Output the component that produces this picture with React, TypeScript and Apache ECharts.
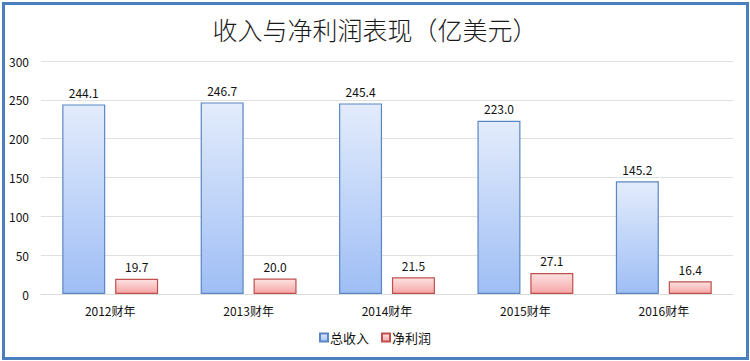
import React, { useEffect, useRef } from "react";
import * as echarts from "echarts";

const categories = ["2012财年", "2013财年", "2014财年", "2015财年", "2016财年"];
const revenue = [244.1, 246.7, 245.4, 223.0, 145.2];
const netProfit = [19.7, 20.0, 21.5, 27.1, 16.4];
const seriesNames = ["总收入", "净利润"];
const yTicks = { min: 0, max: 300, interval: 50 };

const FONT = "'Noto Sans CJK SC', 'DejaVu Sans', sans-serif";

export default function App() {
  const ref = useRef<HTMLDivElement>(null);
  useEffect(() => {
    document.body.style.margin = "0";
    const chart = echarts.init(ref.current!, null, { renderer: "svg" });
    const grad = (top: string, bottom: string) =>
      new echarts.graphic.LinearGradient(0, 0, 0, 1, [
        { offset: 0, color: top },
        { offset: 1, color: bottom },
      ]);
    const label = {
      show: true,
      position: "top" as const,
      distance: 6,
      color: "#111",
      fontSize: 12,
      fontFamily: FONT,
      formatter: (p: any) => Number(p.value).toFixed(1),
    };
    chart.setOption({
      animation: false,
      backgroundColor: "#fff",
      title: {
        text: "收入与净利润表现（亿美元）",
        left: 370,
        textAlign: "center",
        top: 11,
        textStyle: { fontSize: 25, fontWeight: 300, color: "#1a1a1a", fontFamily: FONT },
      },
      graphic: [
        {
          type: "rect",
          shape: { x: 3.5, y: 3.5, width: 744, height: 355 },
          style: { fill: "none", stroke: "#4a7ebf", lineWidth: 3 },
          silent: true,
        },
      ],
      legend: {
        bottom: 12,
        left: "center",
        itemWidth: 8,
        itemHeight: 8,
        itemGap: 12,
        textStyle: { fontSize: 13, color: "#111", fontFamily: FONT, padding: [0, 0, 0, -3] },
        data: seriesNames.map((n) => ({ name: n, icon: "rect" })),
      },
      grid: { left: 41, right: 17, top: 61, bottom: 67 },
      xAxis: {
        type: "category",
        data: categories,
        axisLine: { lineStyle: { color: "#dcdcdc" } },
        axisTick: { show: false },
        axisLabel: { color: "#111", fontSize: 12, fontFamily: FONT, margin: 10 },
      },
      yAxis: {
        type: "value",
        min: yTicks.min,
        max: yTicks.max,
        interval: yTicks.interval,
        axisLine: { show: false },
        axisTick: { show: false },
        axisLabel: { color: "#111", fontSize: 12, fontFamily: FONT, margin: 12 },
        splitLine: { lineStyle: { color: "#e0e0e0" } },
      },
      series: [
        {
          name: seriesNames[0],
          type: "bar",
          data: revenue,
          barWidth: 43,
          barGap: "23%",
          itemStyle: { color: grad("#e3ecfc", "#9fbef5"), borderColor: "#5a86c4", borderWidth: 1.2 },
          label,
        },
        {
          name: seriesNames[1],
          type: "bar",
          data: netProfit,
          barWidth: 43,
          itemStyle: { color: grad("#fde2e2", "#f5a6a6"), borderColor: "#c0504d", borderWidth: 1.2 },
          label,
        },
      ],
    });
    return () => chart.dispose();
  }, []);
  return (
    <div
      ref={ref}
      style={{ position: "absolute", left: 0, top: 0, width: 750, height: 361 }}
    />
  );
}
